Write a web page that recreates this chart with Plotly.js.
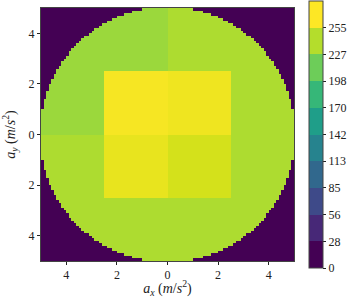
<!DOCTYPE html>
<html>
<head>
<meta charset="utf-8">
<script src="https://cdn.plot.ly/plotly-3.0.1.min.js"></script>
<style>html,body{margin:0;padding:0;background:#fff;}#chart{width:348px;height:298px;}</style>
</head>
<body>
<div id="chart"></div>
<script>
// ---- data ----
var axisTickVals = [-4, -2, 0, 2, 4];
var axisTickText = ["4", "2", "0", "2", "4"];
var cbTickVals = [0, 28.33, 56.67, 85, 113.33, 141.67, 170, 198.33, 226.67, 255];
var cbTickText = ["0", "28", "56", "85", "113", "142", "170", "198", "227", "255"];
var zMax = 283.33;
var nCells = 100;            // grid cells per axis
var extent = [-5, 5];        // axis range
var discRadius = 5.05;       // disc radius
var squareHalf = 2.5;        // half-size of inner square
var outsideValue = 0;        // outside the disc
// disc (outside square) values per quadrant: [top-left, top-right, bottom-left, bottom-right]
var discValues = [241, 249, 249, 249];
// inner square values per quadrant: [top-left, top-right, bottom-left, bottom-right]
var squareValues = [280, 277, 274, 265];

// ---- build the grid ----
var step = (extent[1] - extent[0]) / nCells;
var xs = [], ys = [];
for (var i = 0; i < nCells; i++) { xs.push(extent[0] + step * (i + 0.5)); ys.push(extent[0] + step * (i + 0.5)); }
function quad(x, y) { return (y >= 0 ? 0 : 2) + (x >= 0 ? 1 : 0); }
var z = [];
for (var j = 0; j < nCells; j++) {
  var row = [];
  for (var i = 0; i < nCells; i++) {
    var x = xs[i], y = ys[j];
    var v;
    if (x * x + y * y > discRadius * discRadius) v = outsideValue;
    else if (Math.abs(x) <= squareHalf && Math.abs(y) <= squareHalf) v = squareValues[quad(x, y)];
    else v = discValues[quad(x, y)];
    row.push(v);
  }
  z.push(row);
}

// viridis stops (Plotly)
var vir = [[0,'#440154'],[0.06274509803921569,'#48186a'],[0.12549019607843137,'#472d7b'],[0.18823529411764706,'#424086'],[0.25098039215686274,'#3b528b'],[0.3137254901960784,'#33638d'],[0.3764705882352941,'#2c728e'],[0.4392156862745098,'#26828e'],[0.5019607843137255,'#21918c'],[0.5647058823529412,'#1fa088'],[0.6274509803921569,'#28ae80'],[0.6901960784313725,'#3fbc73'],[0.7529411764705882,'#5ec962'],[0.8156862745098039,'#84d44b'],[0.8784313725490196,'#addc30'],[0.9411764705882353,'#d8e219'],[1,'#fde725']];
function hex(h){return [parseInt(h.substr(1,2),16),parseInt(h.substr(3,2),16),parseInt(h.substr(5,2),16)];}
function virAt(t){
  for (var k=0;k<vir.length-1;k++){
    if (t<=vir[k+1][0]){
      var a=hex(vir[k][1]), b=hex(vir[k+1][1]);
      var f=(t-vir[k][0])/(vir[k+1][0]-vir[k][0]);
      return 'rgb('+Math.round(a[0]+(b[0]-a[0])*f)+','+Math.round(a[1]+(b[1]-a[1])*f)+','+Math.round(a[2]+(b[2]-a[2])*f)+')';
    }
  }
  return vir[vir.length-1][1];
}
var nBands = 10, banded = [];
for (var b = 0; b < nBands; b++) {
  var c = virAt(b / (nBands - 1));
  banded.push([b / nBands, c]);
  banded.push([(b + 1) / nBands, c]);
}

var font = {family: "Liberation Serif", size: 12, color: '#222'};
var titleFont = {family: "Liberation Serif", size: 14, color: '#222'};

var traces = [
  {type: 'heatmap', x: xs, y: ys, z: z, colorscale: vir, zmin: 0, zmax: zMax, showscale: false, hoverinfo: 'skip'},
  {type: 'heatmap', x: [100], y: [100], z: [[0]], colorscale: banded, zmin: 0, zmax: zMax, showscale: true, hoverinfo: 'skip',
   colorbar: {thickness: 14, thicknessmode: 'pixels', len: 1.055, lenmode: 'fraction', x: 1.059, xanchor: 'left', xpad: 0, ypad: 0,
              y: 0.5, yanchor: 'middle', outlinewidth: 1, outlinecolor: '#444', tickvals: cbTickVals, ticktext: cbTickText,
              ticks: 'outside', ticklen: 3, tickwidth: 1, tickcolor: '#222', tickfont: font}}
];

var axisCommon = {range: extent, showgrid: false, zeroline: false, showline: true, mirror: true, linecolor: '#444', linewidth: 1,
  ticks: 'outside', ticklen: 3, tickwidth: 1, tickcolor: '#222', tickvals: axisTickVals, ticktext: axisTickText, tickfont: font, automargin: false};

var layout = {
  width: 348, height: 298,
  margin: {l: 41, r: 54, t: 8, b: 37, pad: 0, autoexpand: false},
  paper_bgcolor: '#fff', plot_bgcolor: '#fff',
  font: font,
  showlegend: false,
  xaxis: Object.assign({}, axisCommon, {title: {text: '<i>a</i><sub><i>x</i></sub> (<i>m</i>/<i>s</i><sup>2</sup>)', font: titleFont, standoff: 0}}),
  yaxis: Object.assign({}, axisCommon, {title: {text: '<i>a</i><sub><i>y</i></sub> (<i>m</i>/<i>s</i><sup>2</sup>)', font: titleFont, standoff: 12}})
};

Plotly.newPlot('chart', traces, layout, {displayModeBar: false, staticPlot: true});
</script>
</body>
</html>
